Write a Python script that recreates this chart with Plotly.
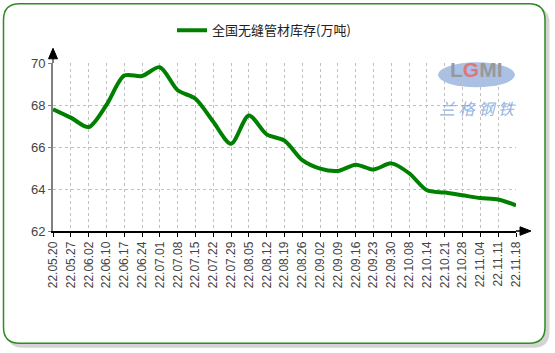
import plotly.graph_objects as go

dates = ["22.05.20", "22.05.27", "22.06.02", "22.06.10", "22.06.17", "22.06.24", "22.07.01",
         "22.07.08", "22.07.15", "22.07.22", "22.07.29", "22.08.05", "22.08.12", "22.08.19",
         "22.08.26", "22.09.02", "22.09.09", "22.09.16", "22.09.23", "22.09.30", "22.10.08",
         "22.10.14", "22.10.21", "22.10.28", "22.11.04", "22.11.11", "22.11.18"]
inventory = [67.8, 67.4, 66.95, 68.0, 69.4, 69.38, 69.8, 68.7, 68.3, 67.2, 66.15, 67.5, 66.6,
             66.3, 65.37, 64.97, 64.86, 65.16, 64.93, 65.22, 64.75, 63.94, 63.83, 63.7,
             63.57, 63.5, 63.22]
series_name = "全国无缝管材库存(万吨)"
y_ticks = [62, 64, 66, 68, 70]

W, H = 555, 353
L, R, T, B = 53, 516, 62.7, 230.7

def px(x):
    return (x - L) / (R - L)

def py(y):
    return (B - y) / (B - T)

fig = go.Figure()
fig.add_trace(go.Scatter(
    x=list(range(len(dates))), y=inventory, mode="lines", name=series_name,
    line=dict(color="#008000", width=4, shape="spline", smoothing=0.8),
))

shapes = []
def rrect(x0, y0, x1, y1, r):
    return (f"M {px(x0+r)} {py(y0)} L {px(x1-r)} {py(y0)} "
            f"Q {px(x1)} {py(y0)} {px(x1)} {py(y0+r)} L {px(x1)} {py(y1-r)} "
            f"Q {px(x1)} {py(y1)} {px(x1-r)} {py(y1)} L {px(x0+r)} {py(y1)} "
            f"Q {px(x0)} {py(y1)} {px(x0)} {py(y1-r)} L {px(x0)} {py(y0+r)} "
            f"Q {px(x0)} {py(y0)} {px(x0+r)} {py(y0)} Z")

shapes.append(dict(type="path", xref="paper", yref="paper", path=rrect(7, 7, 549.5, 347.5, 16),
                   fillcolor="rgba(160,160,160,0.45)", line=dict(width=0), layer="below"))
shapes.append(dict(type="path", xref="paper", yref="paper", path=rrect(3.5, 3.5, 545, 343, 16),
                   fillcolor="white", line=dict(color="#2e8b22", width=1.5), layer="below"))
# watermark ellipse
shapes.append(dict(type="circle", xref="paper", yref="paper",
                   x0=px(438), x1=px(515), y0=py(87), y1=py(62),
                   fillcolor="rgba(125,160,215,0.65)", line=dict(width=0), layer="below"))
# x-axis extension + arrow
shapes.append(dict(type="line", xref="paper", yref="paper", x0=px(R), x1=px(521), y0=0, y1=0,
                   line=dict(color="black", width=1.5)))
shapes.append(dict(type="path", xref="paper", yref="paper",
                   path=f"M {px(520)} {py(226.5)} L {px(531)} {py(230.7)} L {px(520)} {py(235)} Z",
                   fillcolor="black", line=dict(color="black", width=1)))
# y-axis extension + arrow
shapes.append(dict(type="line", xref="paper", yref="paper", x0=0, x1=0, y0=1, y1=py(57),
                   line=dict(color="#808080", width=2)))
shapes.append(dict(type="path", xref="paper", yref="paper",
                   path=f"M {px(48.5)} {py(58.5)} L {px(53)} {py(48)} L {px(57.5)} {py(58.5)} Z",
                   fillcolor="black", line=dict(color="black", width=1)))

annotations = [
    dict(x=px(476), y=py(75), xref="paper", yref="paper", showarrow=False,
         xanchor="center", yanchor="middle", yshift=6,
         text="<b>L<span style='color:rgba(225,110,110,0.95)'>G</span>MI</b>",
         font=dict(size=21, color="rgba(150,150,150,0.95)", family="Liberation Sans, Arial")),
    dict(x=px(477), y=py(108), xref="paper", yref="paper", showarrow=False,
         xanchor="center", yanchor="middle", yshift=0,
         text="<i>兰 格 钢 铁</i>",
         font=dict(size=16, color="rgba(120,160,215,0.8)", family="Noto Sans CJK SC")),
]

fig.update_layout(
    width=W, height=H,
    margin=dict(l=L, r=W - R, t=T, b=H - B, pad=0),
    paper_bgcolor="rgba(0,0,0,0)", plot_bgcolor="rgba(0,0,0,0)",
    font=dict(family="Liberation Sans, Arial, Noto Sans CJK SC", size=12, color="#333333"),
    showlegend=True,
    legend=dict(orientation="h", x=px(172), xanchor="left", y=py(30), yanchor="middle",
                font=dict(size=13, color="#222222", family="Noto Sans CJK SC"),
                bgcolor="rgba(0,0,0,0)", itemwidth=30),
    xaxis=dict(range=[0, len(dates) - 1], tickmode="array",
               tickvals=list(range(len(dates))), ticktext=dates, tickangle=-90,
               showgrid=True, gridcolor="#c0c0c0", griddash="dot", gridwidth=1,
               showline=True, linecolor="black", linewidth=1.5,
               ticks="outside", ticklen=4, tickcolor="black",
               tickfont=dict(size=12, color="#444444"), zeroline=False, fixedrange=True),
    yaxis=dict(range=[62, 70], tickvals=y_ticks,
               showgrid=True, gridcolor="#c0c0c0", griddash="dot", gridwidth=1,
               showline=True, linecolor="#808080", linewidth=2,
               ticks="outside", ticklen=3, tickcolor="#808080",
               tickfont=dict(size=13, color="#444444"), zeroline=False, fixedrange=True),
    shapes=shapes, annotations=annotations,
)

fig.write_html("out.html")
